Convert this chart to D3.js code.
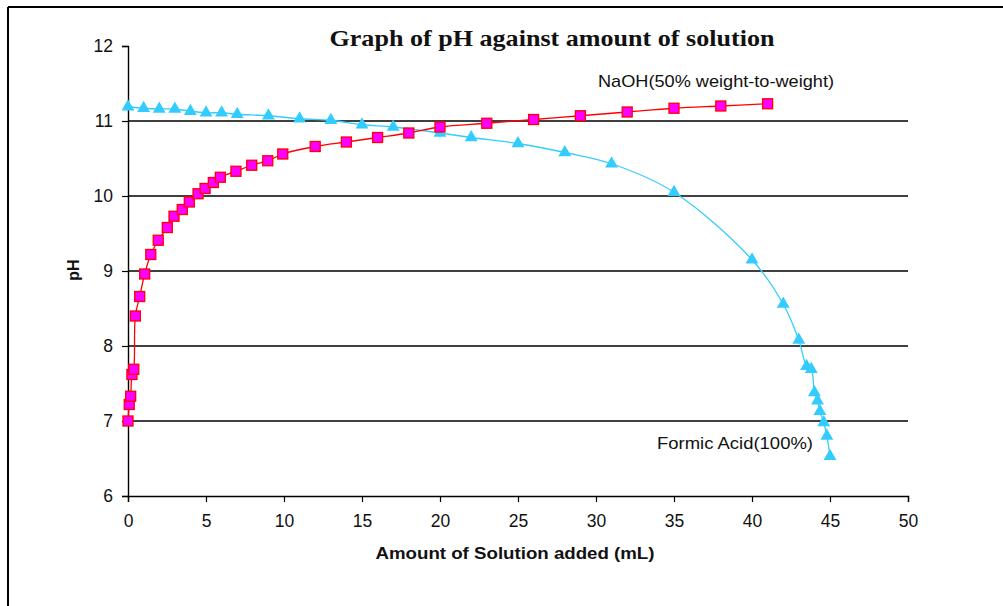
<!DOCTYPE html>
<html>
<head>
<meta charset="utf-8">
<script src="https://cdn.jsdelivr.net/npm/d3@7"></script>
<style>
  body { margin: 0; padding: 0; background: #fff; }
  svg { display: block; }
</style>
</head>
<body>
<script>
// pH titration curves
const naohVolume = [0, 0.08, 0.17, 0.25, 0.37, 0.47, 0.75, 1.07, 1.46, 1.94, 2.52, 2.95, 3.48, 3.93, 4.49, 4.94, 5.47, 5.92, 6.92, 7.93, 8.96, 9.92, 12, 14, 16, 18, 20, 23, 26, 29, 32, 35, 38, 41];
const naohPH = [7.0, 7.22, 7.33, 7.62, 7.69, 8.4, 8.66, 8.96, 9.22, 9.41, 9.58, 9.73, 9.82, 9.92, 10.03, 10.1, 10.18, 10.25, 10.33, 10.41, 10.47, 10.56, 10.66, 10.72, 10.78, 10.84, 10.92, 10.97, 11.02, 11.07, 11.12, 11.17, 11.2, 11.23];

const acidVolume = [0, 1, 2, 3, 4, 5, 6, 7, 9, 11, 13, 15, 17, 20, 22, 25, 28, 31, 35, 40, 42, 43, 43.5, 43.8, 44, 44.2, 44.35, 44.6, 44.8, 45];
const acidPH = [11.19, 11.17, 11.16, 11.16, 11.13, 11.11, 11.11, 11.09, 11.07, 11.03, 11.01, 10.95, 10.92, 10.84, 10.78, 10.7, 10.58, 10.43, 10.05, 9.15, 8.56, 8.08, 7.73, 7.69, 7.38, 7.27, 7.13, 6.98, 6.8, 6.53];

const xTicks = [0, 5, 10, 15, 20, 25, 30, 35, 40, 45, 50];
const yTicks = [6, 7, 8, 9, 10, 11, 12];
const gridValues = [7, 8, 9, 10, 11];

const width = 1003, height = 606;

const svg = d3.select("body").append("svg")
  .attr("width", width)
  .attr("height", height);

// outer frame (top + left only are visible)
svg.append("line").attr("x1", 8).attr("y1", 7).attr("x2", width).attr("y2", 7)
  .attr("stroke", "#000").attr("stroke-width", 2);
svg.append("line").attr("x1", 8).attr("y1", 7).attr("x2", 8).attr("y2", height)
  .attr("stroke", "#000").attr("stroke-width", 2);

const x = d3.scaleLinear().domain([0, 50]).range([128, 908]);
const y = d3.scaleLinear().domain([6, 12]).range([496, 46]);

// horizontal gridlines
svg.append("g").selectAll("line")
  .data(gridValues)
  .join("line")
  .attr("x1", x(0)).attr("x2", x(50))
  .attr("y1", d => y(d)).attr("y2", d => y(d))
  .attr("stroke", "#000")
  .attr("stroke-width", 1.4);

// axes
const xAxis = svg.append("g")
  .attr("transform", `translate(0,${y(6)})`)
  .call(d3.axisBottom(x).tickValues(xTicks).tickSize(6).tickPadding(13).tickFormat(d3.format("d")));
const yAxis = svg.append("g")
  .attr("transform", `translate(${x(0)},0)`)
  .call(d3.axisLeft(y).tickValues(yTicks).tickSize(6).tickPadding(9).tickFormat(d3.format("d")));

[xAxis, yAxis].forEach(g => {
  g.select(".domain").attr("stroke", "#000").attr("stroke-width", 1.4);
  g.selectAll(".tick line").attr("stroke", "#000").attr("stroke-width", 1.2);
  g.selectAll(".tick text")
    .attr("fill", "#111")
    .style("font-family", "'Liberation Sans', Arial, sans-serif")
    .style("font-size", "17.5px");
});

const line = d3.line()
  .x(d => x(d[0]))
  .y(d => y(d[1]))
  .curve(d3.curveCatmullRom.alpha(0.5));

const acidData = acidVolume.map((v, i) => [v, acidPH[i]]);
const naohData = naohVolume.map((v, i) => [v, naohPH[i]]);

// formic acid series
svg.append("path")
  .datum(acidData)
  .attr("fill", "none")
  .attr("stroke", "#33CCFF")
  .attr("stroke-width", 1.3)
  .attr("d", line);

// NaOH series
svg.append("path")
  .datum(naohData)
  .attr("fill", "none")
  .attr("stroke", "#FF0000")
  .attr("stroke-width", 1.3)
  .attr("d", line);

const tri = d3.symbol().type(d3.symbolTriangle).size(72);
svg.append("g").selectAll("path")
  .data(acidData)
  .join("path")
  .attr("d", tri)
  .attr("transform", d => `translate(${x(d[0])},${y(d[1])})`)
  .attr("fill", "#33CCFF");

svg.append("g").selectAll("rect")
  .data(naohData)
  .join("rect")
  .attr("x", d => x(d[0]) - 5)
  .attr("y", d => y(d[1]) - 5)
  .attr("width", 10)
  .attr("height", 10)
  .attr("fill", "#FF00FF")
  .attr("stroke", "#FF0000")
  .attr("stroke-width", 1.3);

// texts
svg.append("text")
  .attr("x", 552).attr("y", 46)
  .attr("text-anchor", "middle")
  .style("font-family", "'Liberation Serif', 'Times New Roman', serif")
  .style("font-weight", "bold")
  .style("font-size", "23px")
  .attr("textLength", 445)
  .attr("lengthAdjust", "spacingAndGlyphs")
  .attr("fill", "#111")
  .text("Graph of pH against amount of solution");

svg.append("text")
  .attr("x", 598).attr("y", 87)
  .style("font-family", "'Liberation Sans', Arial, sans-serif")
  .style("font-size", "17px")
  .attr("textLength", 236)
  .attr("lengthAdjust", "spacingAndGlyphs")
  .attr("fill", "#111")
  .text("NaOH(50% weight-to-weight)");

svg.append("text")
  .attr("x", 657).attr("y", 449)
  .style("font-family", "'Liberation Sans', Arial, sans-serif")
  .style("font-size", "17px")
  .attr("textLength", 156)
  .attr("lengthAdjust", "spacingAndGlyphs")
  .attr("fill", "#111")
  .text("Formic Acid(100%)");

svg.append("text")
  .attr("x", 515).attr("y", 559)
  .attr("text-anchor", "middle")
  .style("font-family", "'Liberation Sans', Arial, sans-serif")
  .style("font-weight", "bold")
  .style("font-size", "16.5px")
  .attr("textLength", 279)
  .attr("lengthAdjust", "spacingAndGlyphs")
  .attr("fill", "#111")
  .text("Amount of Solution added (mL)");

svg.append("text")
  .attr("transform", "translate(79,270) rotate(-90)")
  .attr("text-anchor", "middle")
  .style("font-family", "'Liberation Sans', Arial, sans-serif")
  .style("font-weight", "bold")
  .style("font-size", "16px")
  .attr("fill", "#111")
  .text("pH");
</script>
</body>
</html>
